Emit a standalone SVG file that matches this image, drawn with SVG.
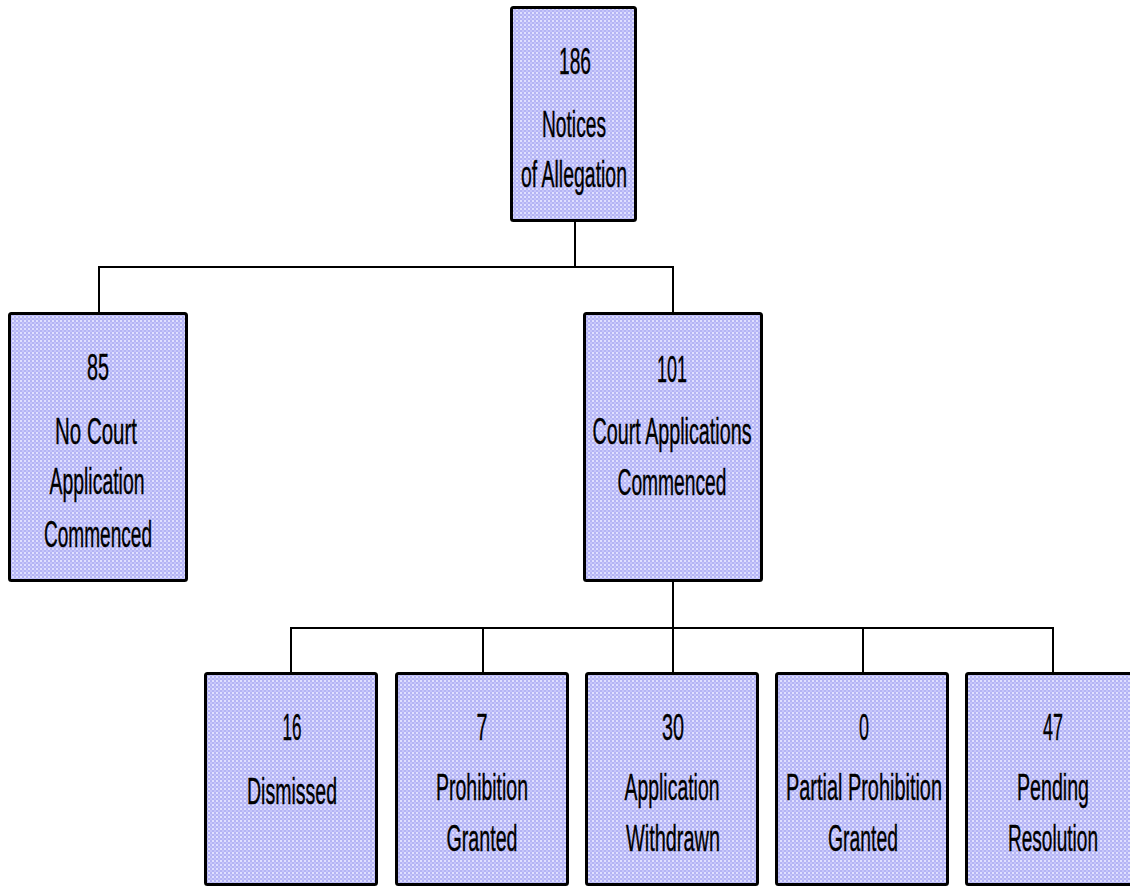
<svg xmlns="http://www.w3.org/2000/svg" width="1130" height="886" viewBox="0 0 1130 886">
  <defs>
    <!-- fine dotted lavender fill used by every box -->
    <pattern id="dots" width="4" height="4" patternUnits="userSpaceOnUse">
      <rect width="4" height="4" fill="#b4b4f4"/>
      <rect x="0" y="0" width="2" height="2" fill="#e0e0ff"/>
      <rect x="2" y="2" width="2" height="2" fill="#c6c6fa"/>
    </pattern>
    <style>
      .box { fill: url(#dots); stroke: #000; stroke-width: 3; }
      .lbl { font-family: "Liberation Sans", Arial, sans-serif; font-size: 36px; fill: #000; stroke: #000; stroke-width: 0.4; text-anchor: middle; }
      .conn line { stroke: #000; stroke-width: 2; fill: none; }
    </style>
  </defs>
  <rect width="1130" height="886" fill="#fff"/>

  <!-- connectors -->
  <g id="connectors" class="conn">
    <line x1="575" y1="221" x2="575" y2="267"/>
    <line x1="98" y1="267" x2="674" y2="267"/>
    <line x1="99" y1="266" x2="99" y2="313"/>
    <line x1="673" y1="266" x2="673" y2="313"/>
    <line x1="673" y1="581" x2="673" y2="628"/>
    <line x1="290" y1="628" x2="1054" y2="628"/>
    <line x1="291" y1="627" x2="291" y2="672"/>
    <line x1="483" y1="627" x2="483" y2="672"/>
    <line x1="673" y1="627" x2="673" y2="672"/>
    <line x1="863" y1="627" x2="863" y2="672"/>
    <line x1="1053" y1="627" x2="1053" y2="672"/>
  </g>

  <g id="notices">
    <rect class="box" x="511.5" y="7.5" width="124" height="213" rx="2"/>
    <text class="lbl" x="575" y="74" textLength="32" lengthAdjust="spacingAndGlyphs">186</text>
    <text class="lbl" x="574" y="137" textLength="64" lengthAdjust="spacingAndGlyphs">Notices</text>
    <text class="lbl" x="574" y="187" textLength="106" lengthAdjust="spacingAndGlyphs">of Allegation</text>
  </g>

  <g id="no-court">
    <rect class="box" x="9.5" y="313.5" width="177" height="267" rx="2"/>
    <text class="lbl" x="98" y="380" textLength="22" lengthAdjust="spacingAndGlyphs">85</text>
    <text class="lbl" x="96" y="444" textLength="82" lengthAdjust="spacingAndGlyphs">No Court</text>
    <text class="lbl" x="97" y="494" textLength="95" lengthAdjust="spacingAndGlyphs">Application</text>
    <text class="lbl" x="98" y="547" textLength="108" lengthAdjust="spacingAndGlyphs">Commenced</text>
  </g>

  <g id="court-applications">
    <rect class="box" x="584.5" y="313.5" width="177" height="267" rx="2"/>
    <text class="lbl" x="672" y="382" textLength="30" lengthAdjust="spacingAndGlyphs">101</text>
    <text class="lbl" x="672" y="444" textLength="159" lengthAdjust="spacingAndGlyphs">Court Applications</text>
    <text class="lbl" x="672" y="495" textLength="109" lengthAdjust="spacingAndGlyphs">Commenced</text>
  </g>

  <g id="dismissed">
    <rect class="box" x="205.5" y="673.5" width="171" height="211" rx="2"/>
    <text class="lbl" x="292" y="740" textLength="19" lengthAdjust="spacingAndGlyphs">16</text>
    <text class="lbl" x="292" y="804" textLength="90" lengthAdjust="spacingAndGlyphs">Dismissed</text>
  </g>

  <g id="prohibition-granted">
    <rect class="box" x="396.5" y="673.5" width="171" height="211" rx="2"/>
    <text class="lbl" x="482" y="740" textLength="11" lengthAdjust="spacingAndGlyphs">7</text>
    <text class="lbl" x="482" y="800" textLength="92" lengthAdjust="spacingAndGlyphs">Prohibition</text>
    <text class="lbl" x="482" y="851" textLength="71" lengthAdjust="spacingAndGlyphs">Granted</text>
  </g>

  <g id="application-withdrawn">
    <rect class="box" x="586.5" y="673.5" width="171" height="211" rx="2"/>
    <text class="lbl" x="673" y="740" textLength="22" lengthAdjust="spacingAndGlyphs">30</text>
    <text class="lbl" x="672" y="800" textLength="95" lengthAdjust="spacingAndGlyphs">Application</text>
    <text class="lbl" x="673" y="851" textLength="94" lengthAdjust="spacingAndGlyphs">Withdrawn</text>
  </g>

  <g id="partial-prohibition">
    <rect class="box" x="776.5" y="673.5" width="171" height="211" rx="2"/>
    <text class="lbl" x="864" y="740" textLength="10" lengthAdjust="spacingAndGlyphs">0</text>
    <text class="lbl" x="864" y="800" textLength="156" lengthAdjust="spacingAndGlyphs">Partial Prohibition</text>
    <text class="lbl" x="863" y="851" textLength="70" lengthAdjust="spacingAndGlyphs">Granted</text>
  </g>

  <g id="pending-resolution">
    <rect class="box" x="966.5" y="673.5" width="171" height="211" rx="2"/>
    <text class="lbl" x="1053" y="740" textLength="20" lengthAdjust="spacingAndGlyphs">47</text>
    <text class="lbl" x="1053" y="800" textLength="72" lengthAdjust="spacingAndGlyphs">Pending</text>
    <text class="lbl" x="1053" y="851" textLength="90" lengthAdjust="spacingAndGlyphs">Resolution</text>
  </g>
</svg>
